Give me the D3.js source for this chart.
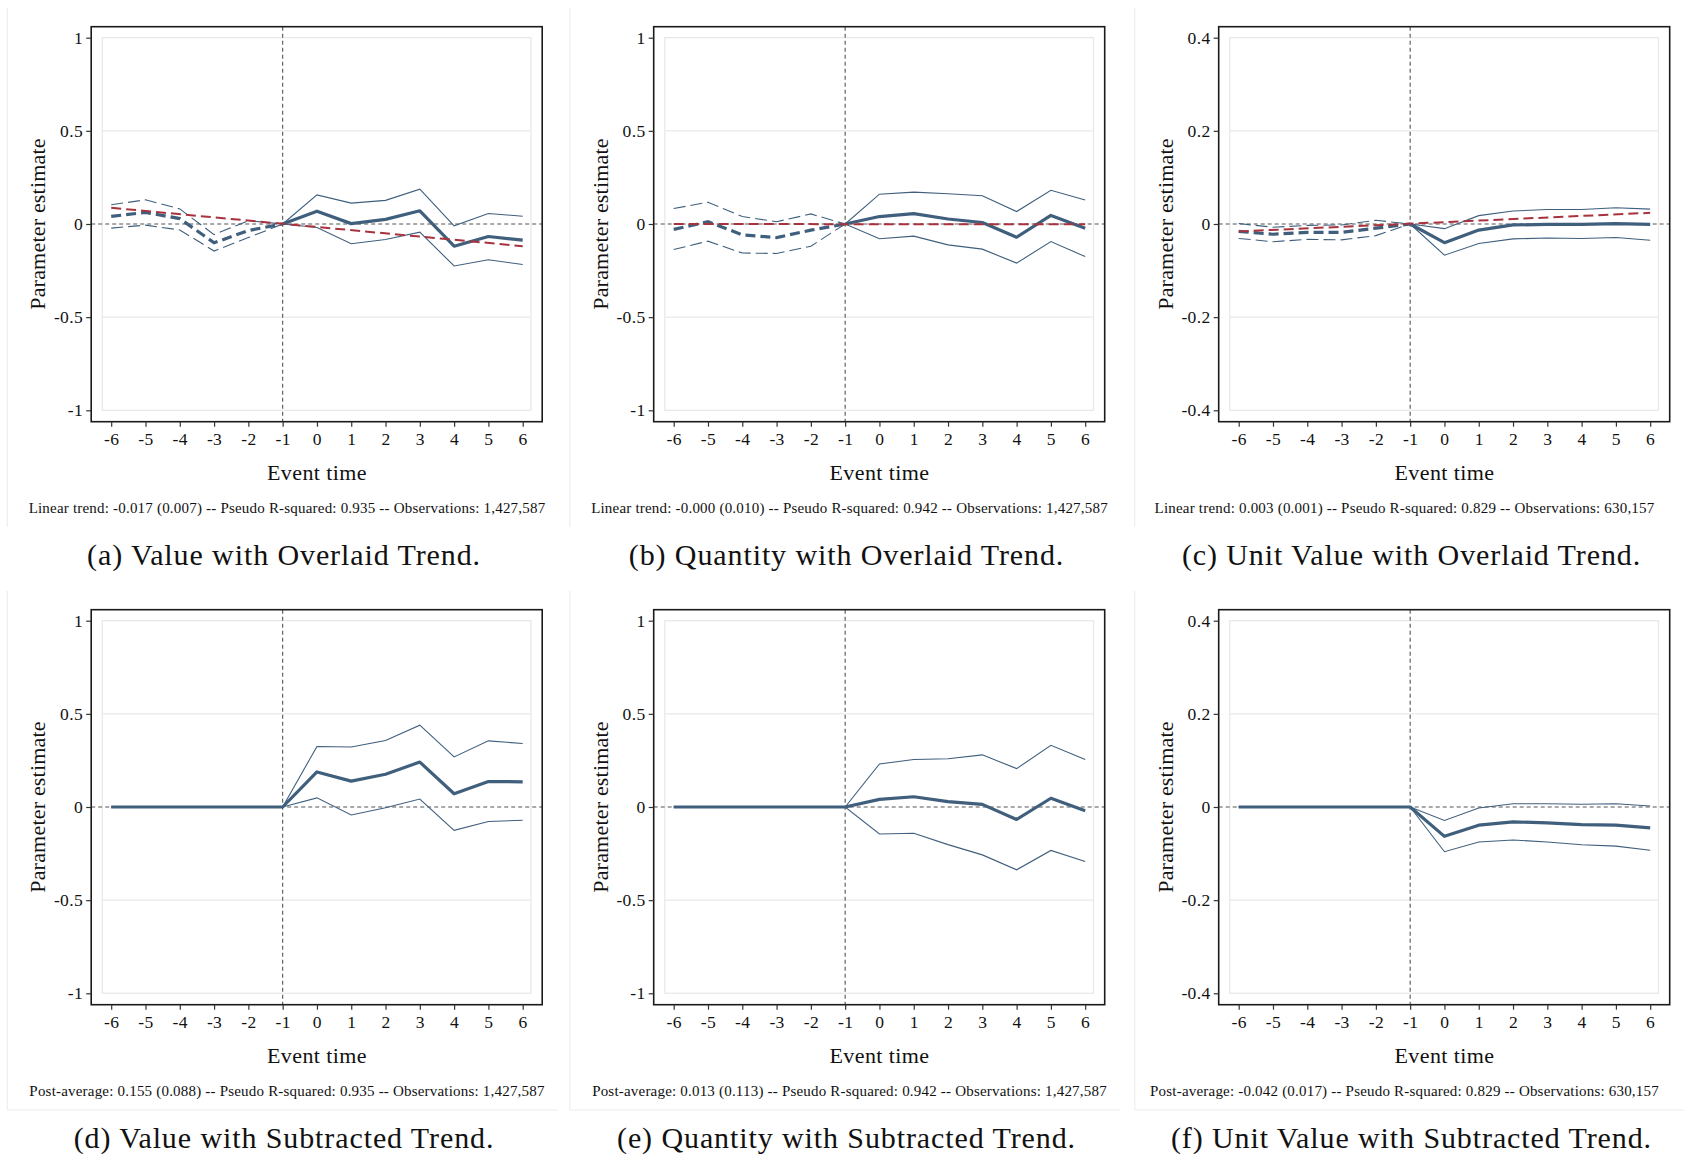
<!DOCTYPE html>
<html>
<head>
<meta charset="utf-8">
<script src="https://cdn.jsdelivr.net/npm/d3@7"></script>
<style>
  html, body { margin: 0; padding: 0; background: #fff; }
  svg { display: block; }
  text { font-family: "Liberation Serif", "DejaVu Serif", serif; fill: #111; }
</style>
</head>
<body>
<svg id="chart" width="1684" height="1154"></svg>
<script>
// event study estimates
const eventTime = [-6, -5, -4, -3, -2, -1, 0, 1, 2, 3, 4, 5, 6];
const trendTime = [-6, 6];

// (a) value, overlaid trend
const valueOverlaidEst = [0.041, 0.062, 0.029, -0.101, -0.035, 0, 0.069, 0.002, 0.025, 0.071, -0.119, -0.067, -0.087];
const valueOverlaidHi  = [0.103, 0.130, 0.081, -0.057, 0.018, 0, 0.156, 0.112, 0.127, 0.187, -0.010, 0.056, 0.042];
const valueOverlaidLo  = [-0.022, -0.006, -0.032, -0.145, -0.073, 0, -0.019, -0.106, -0.083, -0.044, -0.225, -0.192, -0.217];
const valueTrend       = [0.087, -0.119];

// (b) quantity, overlaid trend
const qtyOverlaidEst = [-0.029, 0.012, -0.058, -0.073, -0.033, 0, 0.040, 0.056, 0.027, 0.008, -0.071, 0.046, -0.023];
const qtyOverlaidHi  = [0.083, 0.117, 0.040, 0.012, 0.054, 0, 0.160, 0.171, 0.162, 0.152, 0.067, 0.181, 0.129];
const qtyOverlaidLo  = [-0.137, -0.092, -0.156, -0.158, -0.119, 0, -0.079, -0.065, -0.112, -0.135, -0.210, -0.094, -0.175];
const qtyTrend       = [0.000, -0.002];

// (c) unit value, overlaid trend
const uvOverlaidEst = [-0.016, -0.022, -0.018, -0.018, -0.009, 0, -0.040, -0.013, -0.002, -0.001, -0.001, 0.001, -0.001];
const uvOverlaidHi  = [0.001, -0.007, -0.003, -0.002, 0.008, 0, -0.010, 0.018, 0.028, 0.031, 0.031, 0.035, 0.032];
const uvOverlaidLo  = [-0.031, -0.038, -0.033, -0.034, -0.025, 0, -0.067, -0.042, -0.032, -0.030, -0.031, -0.029, -0.035];
const uvTrend       = [-0.016, 0.024];

// (d) value, subtracted trend
const valueSubEst = [0, 0, 0, 0, 0, 0, 0.188, 0.139, 0.176, 0.241, 0.071, 0.137, 0.135];
const valueSubHi  = [0, 0, 0, 0, 0, 0, 0.325, 0.322, 0.357, 0.439, 0.269, 0.355, 0.341];
const valueSubLo  = [0, 0, 0, 0, 0, 0, 0.049, -0.043, -0.004, 0.043, -0.125, -0.078, -0.071];

// (e) quantity, subtracted trend
const qtySubEst = [0, 0, 0, 0, 0, 0, 0.041, 0.055, 0.029, 0.014, -0.067, 0.047, -0.020];
const qtySubHi  = [0, 0, 0, 0, 0, 0, 0.231, 0.255, 0.259, 0.280, 0.206, 0.331, 0.255];
const qtySubLo  = [0, 0, 0, 0, 0, 0, -0.145, -0.141, -0.202, -0.257, -0.337, -0.233, -0.292];

// (f) unit value, subtracted trend
const uvSubEst = [0, 0, 0, 0, 0, 0, -0.063, -0.039, -0.032, -0.034, -0.038, -0.039, -0.045];
const uvSubHi  = [0, 0, 0, 0, 0, 0, -0.029, -0.002, 0.007, 0.007, 0.006, 0.007, 0.002];
const uvSubLo  = [0, 0, 0, 0, 0, 0, -0.096, -0.075, -0.071, -0.075, -0.081, -0.084, -0.093];

const wideTicks = [-1, -0.5, 0, 0.5, 1];
const narrowTicks = [-0.4, -0.2, 0, 0.2, 0.4];

const notes = [
    'Linear trend: -0.017 (0.007) -- Pseudo R-squared: 0.935 -- Observations: 1,427,587',
    'Linear trend: -0.000 (0.010) -- Pseudo R-squared: 0.942 -- Observations: 1,427,587',
    'Linear trend: 0.003 (0.001) -- Pseudo R-squared: 0.829 -- Observations: 630,157',
    'Post-average: 0.155 (0.088) -- Pseudo R-squared: 0.935 -- Observations: 1,427,587',
    'Post-average: 0.013 (0.113) -- Pseudo R-squared: 0.942 -- Observations: 1,427,587',
    'Post-average: -0.042 (0.017) -- Pseudo R-squared: 0.829 -- Observations: 630,157'
];
const captions = [
    '(a) Value with Overlaid Trend.',
    '(b) Quantity with Overlaid Trend.',
    '(c) Unit Value with Overlaid Trend.',
    '(d) Value with Subtracted Trend.',
    '(e) Quantity with Subtracted Trend.',
    '(f) Unit Value with Subtracted Trend.'
];

const panels = [
    { est: valueOverlaidEst, hi: valueOverlaidHi, lo: valueOverlaidLo, trend: valueTrend, ticks: wideTicks },
    { est: qtyOverlaidEst, hi: qtyOverlaidHi, lo: qtyOverlaidLo, trend: qtyTrend, ticks: wideTicks },
    { est: uvOverlaidEst, hi: uvOverlaidHi, lo: uvOverlaidLo, trend: uvTrend, ticks: narrowTicks },
    { est: valueSubEst, hi: valueSubHi, lo: valueSubLo, trend: null, ticks: wideTicks },
    { est: qtySubEst, hi: qtySubHi, lo: qtySubLo, trend: null, ticks: wideTicks },
    { est: uvSubEst, hi: uvSubHi, lo: uvSubLo, trend: null, ticks: narrowTicks }
];

const BLUE = '#3f5f7d';
const RED = '#a8323d';
const SERIF = '"Liberation Serif", "DejaVu Serif", serif';
const colX = [0, 562.5, 1127.5];
const noteX = [287, 287, 277];   // the right column's note sits a bit further left
const rowY = [0, 583];

const svg = d3.select('#chart');
svg.append('rect').attr('width', 1684).attr('height', 1154).attr('fill', '#fff');

panels.forEach((p, i) => {
    const col = i % 3;
    const ox = colX[col], oy = rowY[Math.floor(i / 3)];
    const g = svg.append('g').style('font-family', SERIF);

    const frame = { x: ox + 91.2, y: oy + 26.7, w: 451, h: 395 };
    const x = d3.scaleLinear().domain([-6, 6]).range([ox + 111.2, ox + 522.7]);
    const yMin = d3.min(p.ticks), yMax = d3.max(p.ticks);
    const y = d3.scaleLinear().domain([yMin, yMax]).range([oy + 410.3, oy + 37.7]);

    // faint graph-region edges
    g.append('line').attr('x1', ox + 7.3).attr('x2', ox + 7.3)
        .attr('y1', oy + 8).attr('y2', oy + 527)
        .attr('stroke', '#ececec').attr('stroke-width', 1);
    if (i >= 3) {
        g.append('line').attr('x1', ox + 7.3).attr('x2', ox + 558)
            .attr('y1', 1110).attr('y2', 1110)
            .attr('stroke', '#ececec').attr('stroke-width', 1);
    }

    // inner plot region box + gridlines
    g.append('rect')
        .attr('x', ox + 102.3).attr('y', y(yMax))
        .attr('width', 428.7).attr('height', y(yMin) - y(yMax))
        .attr('fill', 'none').attr('stroke', '#e9e9e9').attr('stroke-width', 1.3);
    p.ticks.filter(t => t !== 0 && t !== yMin && t !== yMax).forEach(t => {
        g.append('line')
            .attr('x1', ox + 102.3).attr('x2', ox + 531)
            .attr('y1', y(t)).attr('y2', y(t))
            .attr('stroke', '#e9e9e9').attr('stroke-width', 1.3);
    });

    // reference lines
    g.append('line')
        .attr('x1', frame.x).attr('x2', frame.x + frame.w)
        .attr('y1', y(0)).attr('y2', y(0))
        .attr('stroke', '#555').attr('stroke-width', 1.1).attr('stroke-dasharray', '4,3');
    g.append('line')
        .attr('x1', x(-1)).attr('x2', x(-1))
        .attr('y1', frame.y).attr('y2', frame.y + frame.h)
        .attr('stroke', '#555').attr('stroke-width', 1.1).attr('stroke-dasharray', '4,3');

    const line = d3.line().x(d => x(d.t)).y(d => y(d.v));
    const pts = arr => eventTime.map((t, k) => ({ t, v: arr[k] }));
    const est = pts(p.est), hi = pts(p.hi), lo = pts(p.lo);
    const pre = a => a.filter(d => d.t <= -1);
    const post = a => a.filter(d => d.t >= -1);

    if (p.trend) {
        // overlaid: pre-period dashed, post-period solid
        [hi, lo].forEach(a => {
            g.append('path').datum(pre(a)).attr('d', line)
                .attr('fill', 'none').attr('stroke', BLUE).attr('stroke-width', 1.1)
                .attr('stroke-dasharray', '12,5');
            g.append('path').datum(post(a)).attr('d', line)
                .attr('fill', 'none').attr('stroke', BLUE).attr('stroke-width', 1.1);
        });
        g.append('path').datum(pre(est)).attr('d', line)
            .attr('fill', 'none').attr('stroke', BLUE).attr('stroke-width', 3.2)
            .attr('stroke-dasharray', '10,5');
        g.append('path').datum(post(est)).attr('d', line)
            .attr('fill', 'none').attr('stroke', BLUE).attr('stroke-width', 3.2)
            .attr('stroke-linejoin', 'round');
        g.append('path').datum(trendTime.map((t, k) => ({ t, v: p.trend[k] }))).attr('d', line)
            .attr('fill', 'none').attr('stroke', RED).attr('stroke-width', 2)
            .attr('stroke-dasharray', '10,5');
    } else {
        [hi, lo].forEach(a => {
            g.append('path').datum(a).attr('d', line)
                .attr('fill', 'none').attr('stroke', BLUE).attr('stroke-width', 1.1);
        });
        g.append('path').datum(est).attr('d', line)
            .attr('fill', 'none').attr('stroke', BLUE).attr('stroke-width', 3.2)
            .attr('stroke-linejoin', 'round');
    }

    // outer frame
    g.append('rect')
        .attr('x', frame.x).attr('y', frame.y).attr('width', frame.w).attr('height', frame.h)
        .attr('fill', 'none').attr('stroke', '#1a1a1a').attr('stroke-width', 1.6);

    // axes
    const ya = g.append('g').attr('transform', `translate(${frame.x},0)`)
        .call(d3.axisLeft(y).tickValues(p.ticks).tickSize(5).tickPadding(3).tickFormat(d => String(d)));
    const xa = g.append('g').attr('transform', `translate(0,${frame.y + frame.h})`)
        .call(d3.axisBottom(x).tickValues(eventTime).tickSize(5).tickPadding(6).tickFormat(d => String(d)));
    [ya, xa].forEach(a => {
        a.attr('font-family', SERIF).attr('font-size', 17.5);
        a.select('.domain').remove();
        a.selectAll('.tick line').attr('stroke', '#333').attr('stroke-width', 1.2);
        a.selectAll('.tick text').attr('fill', '#111').attr('letter-spacing', 0.4);
    });

    // titles
    g.append('text')
        .attr('transform', `translate(${ox + 45},${oy + 224}) rotate(-90)`)
        .attr('text-anchor', 'middle').attr('font-size', 22).attr('letter-spacing', 0.2)
        .text('Parameter estimate');
    g.append('text')
        .attr('x', ox + 317).attr('y', oy + 480)
        .attr('text-anchor', 'middle').attr('font-size', 22).attr('letter-spacing', 0.4)
        .text('Event time');
    g.append('text')
        .attr('x', ox + noteX[col]).attr('y', oy + 512.5)
        .attr('text-anchor', 'middle').attr('font-size', 15).attr('letter-spacing', 0.2)
        .text(notes[i]);
    g.append('text')
        .attr('x', ox + 284).attr('y', oy + 565)
        .attr('text-anchor', 'middle').attr('font-size', 30).attr('letter-spacing', 0.9)
        .text(captions[i]);
});
</script>
</body>
</html>
